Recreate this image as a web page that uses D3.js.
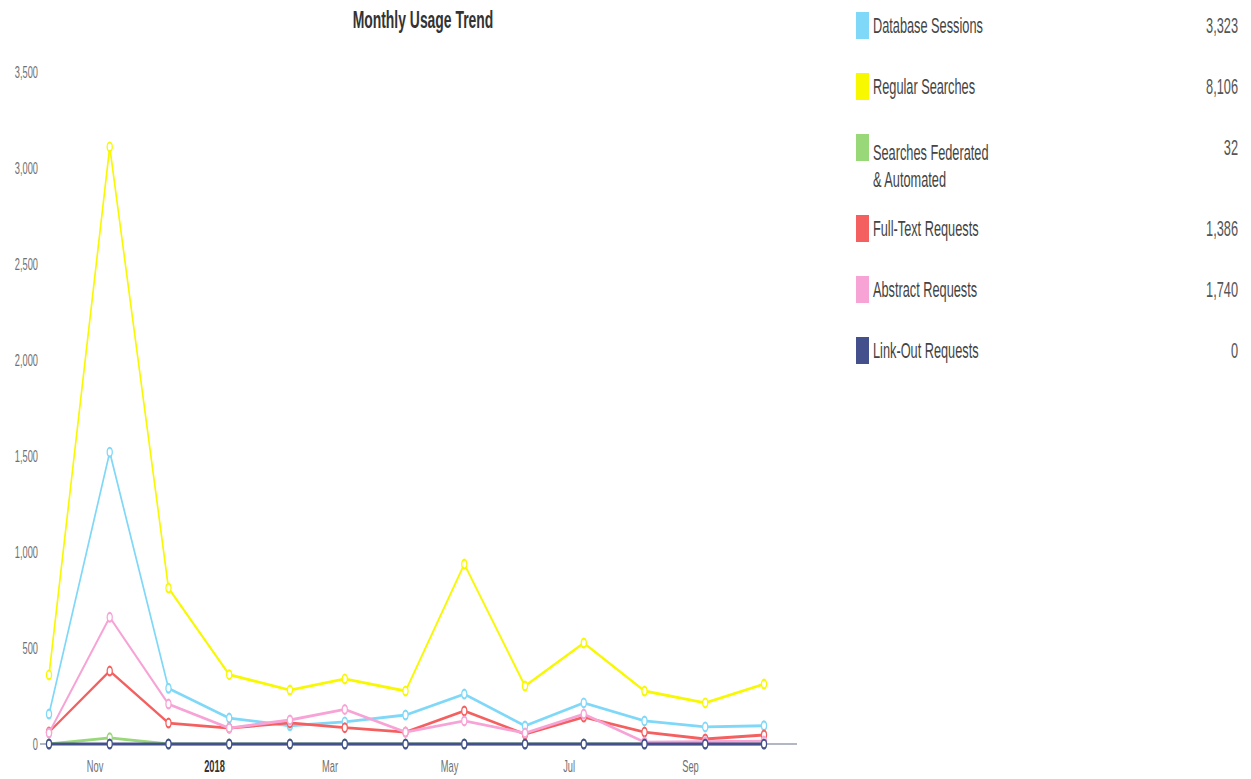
<!DOCTYPE html>
<html>
<head>
<meta charset="utf-8">
<script src="https://cdn.jsdelivr.net/npm/d3@7"></script>
<style>
  html, body { margin: 0; padding: 0; background: #fff; }
  svg { display: block; }
</style>
</head>
<body>
<svg id="chart" width="1251" height="779"></svg>
<script>
// ---------- data ----------
const months = ["2017-10-01","2017-11-01","2017-12-01","2018-01-01","2018-02-01","2018-03-01",
                "2018-04-01","2018-05-01","2018-06-01","2018-07-01","2018-08-01","2018-09-01","2018-10-01"];
const seriesNames = ["Database Sessions", "Regular Searches", "Searches Federated\n& Automated",
                     "Full-Text Requests", "Abstract Requests", "Link-Out Requests"];
const seriesTotals = ["3,323", "8,106", "32", "1,386", "1,740", "0"];
const databaseSessions = [156, 1520, 290, 135, 95, 115, 151, 260, 94, 214, 120, 89, 95];
const regularSearches  = [360, 3110, 812, 361, 281, 339, 276, 937, 302, 526, 276, 214, 312];
const searchesFederated = [0, 32, 0, 0, 0, 0, 0, 0, 0, 0, 0, 0, 0];
const fullTextRequests = [62, 380, 109, 83, 110, 85, 62, 172, 52, 140, 62, 26, 47];
const abstractRequests = [57, 660, 208, 83, 125, 180, 62, 120, 57, 156, 10, 12, 15];
const linkOutRequests  = [0, 0, 0, 0, 0, 0, 0, 0, 0, 0, 0, 0, 0];
const yTicks = [0, 500, 1000, 1500, 2000, 2500, 3000, 3500];
const chartTitle = "Monthly Usage Trend";

// ---------- style ----------
const colors = ["#7fd8f8", "#f8f800", "#98d878", "#f46060", "#f7a3d5", "#44508c"];
const K = 0.58; // horizontal squeeze of the whole picture
const V = px => px / K;
const FONT = "'Liberation Sans', Arial, sans-serif";

const allSeries = [databaseSessions, regularSearches, searchesFederated,
                   fullTextRequests, abstractRequests, linkOutRequests];
const parse = d3.utcParse("%Y-%m-%d");
const dates = months.map(parse);

const svg = d3.select("#chart");
const root = svg.append("g").attr("transform", `scale(${K},1)`);

const x = d3.scaleUtc().domain([dates[0], dates[dates.length - 1]]).range([V(49), V(764)]);
const y = d3.scaleLinear().domain([0, 3500]).range([744, 72]);

// title
root.append("text")
  .attr("x", V(423)).attr("y", 28)
  .attr("text-anchor", "middle")
  .attr("font-family", FONT).attr("font-size", 24).attr("font-weight", "bold")
  .attr("fill", "#333")
  .text(chartTitle);

// y axis
const yAxis = root.append("g")
  .attr("transform", `translate(${V(40)},0)`)
  .call(d3.axisLeft(y).tickValues(yTicks).tickFormat(d3.format(",")).tickSize(0).tickPadding(V(2)));
yAxis.select(".domain").remove();
yAxis.selectAll("text")
  .attr("font-family", FONT).attr("font-size", 16).attr("fill", "#707070");

// x axis
const xAxis = root.append("g")
  .attr("transform", "translate(0,744)")
  .call(d3.axisBottom(x)
    .ticks(d3.utcMonth.every(2))
    .tickFormat(d => d.getUTCMonth() === 0 ? d3.utcFormat("%Y")(d) : d3.utcFormat("%b")(d))
    .tickSize(0).tickPadding(17));
xAxis.select(".domain").remove();
xAxis.selectAll("text")
  .attr("dx", V(-15))
  .attr("font-family", FONT).attr("font-size", 16)
  .attr("fill", d => d.getUTCMonth() === 0 ? "#333" : "#707070")
  .attr("font-weight", d => d.getUTCMonth() === 0 ? "bold" : "normal");

// axis baseline
root.append("line")
  .attr("x1", V(40)).attr("x2", V(797))
  .attr("y1", y(0)).attr("y2", y(0))
  .attr("stroke", "#9a9fb0").attr("stroke-width", 1.5);

// series
const line = d3.line().x((d, i) => x(dates[i])).y(d => y(d));
allSeries.forEach((vals, si) => {
  const g = root.append("g");
  g.append("path")
    .datum(vals)
    .attr("d", line)
    .attr("fill", "none")
    .attr("stroke", colors[si])
    .attr("stroke-width", 2.8)
    .attr("stroke-linejoin", "round");
  g.selectAll("circle").data(vals).join("circle")
    .attr("cx", (d, i) => x(dates[i]))
    .attr("cy", d => y(d))
    .attr("r", 4.4)
    .attr("fill", "#fff")
    .attr("stroke", colors[si])
    .attr("stroke-width", 2.2);
});

// legend
let legendY = 12;
seriesNames.forEach((name, i) => {
  const lines = name.split("\n");
  const g = root.append("g");
  g.append("rect")
    .attr("x", V(856)).attr("y", legendY)
    .attr("width", V(13)).attr("height", 27)
    .attr("fill", colors[i]);
  const t = g.append("text")
    .attr("font-family", FONT).attr("font-size", 22).attr("fill", "#444");
  lines.forEach((ln, li) => {
    t.append("tspan")
      .attr("x", V(873))
      .attr("y", legendY + (lines.length > 1 ? 26 : 21) + li * 27)
      .text(ln);
  });
  g.append("text")
    .attr("x", V(1238)).attr("y", legendY + 21)
    .attr("text-anchor", "end")
    .attr("font-family", FONT).attr("font-size", 22).attr("fill", "#555")
    .text(seriesTotals[i]);
  legendY += 61 + (lines.length - 1) * 20;
});
</script>
</body>
</html>
